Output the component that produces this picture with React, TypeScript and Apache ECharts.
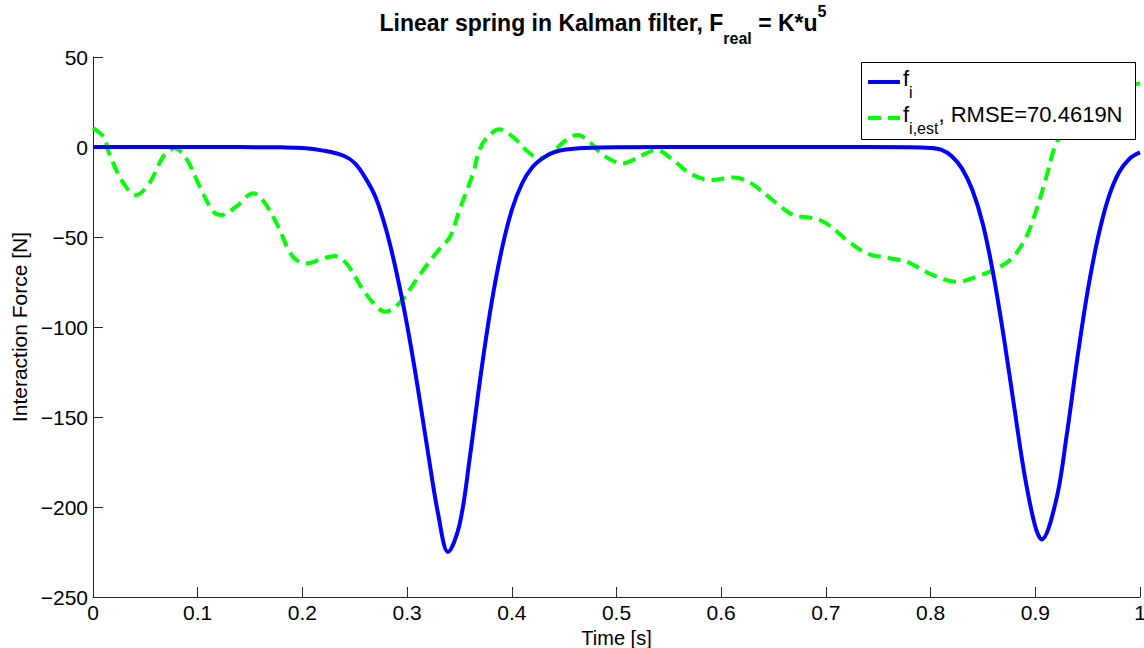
import React, { useEffect, useRef } from "react";
import * as echarts from "echarts";

// f_i (real interaction force) [time s, force N]
const fiTime = [0, 0.1, 0.18, 0.2, 0.22, 0.24, 0.25, 0.26, 0.27, 0.28, 0.29, 0.3, 0.31, 0.32, 0.33, 0.339, 0.35, 0.36, 0.37, 0.38, 0.39, 0.4, 0.41, 0.42, 0.43, 0.44, 0.45, 0.47, 0.5, 0.6, 0.7, 0.78, 0.8, 0.81, 0.82, 0.83, 0.84, 0.85, 0.86, 0.87, 0.88, 0.89, 0.9, 0.906, 0.92, 0.93, 0.94, 0.95, 0.96, 0.97, 0.98, 0.99, 1.0];
const fiValue = [0, 0, -0.2, -0.5, -2, -5, -9, -17, -28, -46, -70, -99, -133, -170, -205, -225, -210, -172, -128, -89, -58, -35, -20, -11, -6, -3, -1.5, -0.5, -0.1, 0, 0, -0.1, -0.5, -1.5, -5, -12, -24, -43, -71, -106, -145, -183, -211, -218, -196, -160, -118, -80, -50, -28, -14, -6.5, -3];

// f_i,est (Kalman estimate)
const estTime = [0, 0.01, 0.016, 0.029, 0.041, 0.054, 0.067, 0.078, 0.089, 0.102, 0.115, 0.123, 0.137, 0.153, 0.162, 0.175, 0.191, 0.204, 0.22, 0.231, 0.242, 0.258, 0.271, 0.279, 0.293, 0.313, 0.329, 0.341, 0.35, 0.363, 0.369, 0.376, 0.388, 0.401, 0.417, 0.427, 0.439, 0.452, 0.463, 0.474, 0.487, 0.506, 0.525, 0.538, 0.554, 0.57, 0.59, 0.612, 0.627, 0.646, 0.653, 0.669, 0.688, 0.7005, 0.72, 0.739, 0.761, 0.777, 0.802, 0.825, 0.844, 0.8665, 0.879, 0.8915, 0.901, 0.9106, 0.92, 0.935, 0.955, 0.975, 1.0];
const estValue = [10.4, 5.7, -4.4, -20, -26.7, -20, -5.4, -0.7, -6.3, -22, -36, -37.8, -33, -25.7, -29.4, -42, -61, -64.6, -61.8, -60.6, -64.6, -79.4, -88.7, -91.5, -86.5, -70.2, -58, -49.8, -35, -14.6, -1.7, 5, 9.8, 5.7, -3.5, -6.3, -2.6, 3.9, 6.7, 2.9, -4.4, -9, -4.4, -1.7, -7.2, -14.6, -18.3, -16.9, -19.6, -28, -31.3, -37.8, -39.6, -42.4, -51.7, -59, -61.8, -63.7, -71.1, -74.8, -72, -66.5, -61, -49.8, -35, -16.5, 2, 15, 25, 31, 35.5];

const xTicks = [0, 0.1, 0.2, 0.3, 0.4, 0.5, 0.6, 0.7, 0.8, 0.9, 1];
const yTicks = [-250, -200, -150, -100, -50, 0, 50];

const titleParts = { main: "Linear spring in Kalman filter, F", sub: "real", mid: " = K*u", sup: "5" };
const legendNames = { fi: "i", est: "i,est", rmse: ", RMSE=70.4619N" };

const FONT = "'Liberation Sans', Arial, Helvetica, sans-serif";

export default function App() {
  const ref = useRef<HTMLDivElement>(null);
  useEffect(() => {
    if (!ref.current) return;
    const chart = echarts.init(ref.current, null, { renderer: "svg" });
    const axisColor = "#262626";
    const fiData = fiTime.map((t, i) => [t, fiValue[i]]);
    const estData = estTime.map((t, i) => [t, estValue[i]]);
    chart.setOption({
      animation: false,
      backgroundColor: "#ffffff",
      textStyle: { fontFamily: FONT },
      grid: { left: 93, right: 4, top: 57, bottom: 51, containLabel: false, outerBoundsMode: "none" },
      xAxis: {
        type: "value",
        min: xTicks[0],
        max: xTicks[xTicks.length - 1],
        interval: 0.1,
        name: "Time [s]",
        nameLocation: "middle",
        nameGap: 20,
        nameTextStyle: { fontSize: 20, color: "#000", fontFamily: FONT },
        axisLine: { show: true, onZero: false, lineStyle: { color: axisColor, width: 1 } },
        axisTick: { show: true, inside: true, length: 10, lineStyle: { color: axisColor } },
        axisLabel: {
          fontSize: 21,
          color: "#000",
          margin: 5,
          fontFamily: FONT,
          formatter: (v: number) => String(parseFloat(v.toFixed(1))),
        },
        splitLine: { show: false },
      },
      yAxis: {
        type: "value",
        min: yTicks[0],
        max: yTicks[yTicks.length - 1],
        interval: 50,
        name: "Interaction Force [N]",
        nameLocation: "middle",
        nameGap: 60,
        nameRotate: 90,
        nameTextStyle: { fontSize: 21, color: "#000", fontFamily: FONT },
        axisLine: { show: true, onZero: false, lineStyle: { color: axisColor, width: 1 } },
        axisTick: { show: true, inside: true, length: 10, lineStyle: { color: axisColor } },
        axisLabel: {
          fontSize: 21,
          color: "#000",
          margin: 5,
          fontFamily: FONT,
          formatter: (v: number) => String(v).replace("-", "\u2212"),
        },
        splitLine: { show: false },
      },
      series: [
        {
          name: "fi",
          type: "line",
          data: fiData,
          symbol: "none",
          smooth: 0.35,
          lineStyle: { color: "#0000ff", width: 4 },
          z: 3,
        },
        {
          name: "fiest",
          type: "line",
          data: estData,
          symbol: "none",
          smooth: 0.35,
          lineStyle: { color: "#00ff00", width: 4, type: [13, 7] },
          z: 2,
        },
      ],
      graphic: [
        {
          type: "text",
          z: 100,
          style: {
            x: 603,
            y: 0,
            align: "center",
            verticalAlign: "top",
            text: `{b|${titleParts.main}}{sub|${titleParts.sub}}{b|${titleParts.mid}}{sup|${titleParts.sup}}`,
            fill: "#000",
            rich: {
              b: { fontSize: 23, fontWeight: "bold", fontFamily: FONT, lineHeight: 46, fill: "#000" },
              sub: { fontSize: 16, fontWeight: "bold", fontFamily: FONT, lineHeight: 16, verticalAlign: "bottom", fill: "#000" },
              sup: { fontSize: 16, fontWeight: "bold", fontFamily: FONT, lineHeight: 16, verticalAlign: "top", fill: "#000", padding: [3, 0, 0, 0] },
            },
          },
        },
        {
          type: "rect",
          z: 100,
          shape: { x: 861.5, y: 62.5, width: 274, height: 77 },
          style: { fill: "#ffffff", stroke: "#000000", lineWidth: 1 },
        },
        {
          type: "line",
          z: 101,
          shape: { x1: 868, y1: 82, x2: 900, y2: 82 },
          style: { stroke: "#0000ff", lineWidth: 4 },
        },
        {
          type: "line",
          z: 101,
          shape: { x1: 868, y1: 118, x2: 900, y2: 118 },
          style: { stroke: "#00ff00", lineWidth: 4, lineDash: [13, 7] },
        },
        {
          type: "text",
          z: 101,
          style: {
            x: 903,
            y: 56,
            verticalAlign: "top",
            text: `{m|f}{s|${legendNames.fi}}`,
            rich: {
              m: { fontSize: 22, fontFamily: FONT, lineHeight: 44, fill: "#000" },
              s: { fontSize: 16, fontFamily: FONT, lineHeight: 16, verticalAlign: "bottom", fill: "#000" },
            },
          },
        },
        {
          type: "text",
          z: 101,
          style: {
            x: 903,
            y: 92,
            verticalAlign: "top",
            text: `{m|f}{s|${legendNames.est}}{m|${legendNames.rmse}}`,
            rich: {
              m: { fontSize: 22, fontFamily: FONT, lineHeight: 44, fill: "#000" },
              s: { fontSize: 16, fontFamily: FONT, lineHeight: 16, verticalAlign: "bottom", fill: "#000" },
            },
          },
        },
      ],
    });
    return () => chart.dispose();
  }, []);
  return <div ref={ref} style={{ width: 1144, height: 648, position: "absolute", left: 0, top: 0 }} />;
}
